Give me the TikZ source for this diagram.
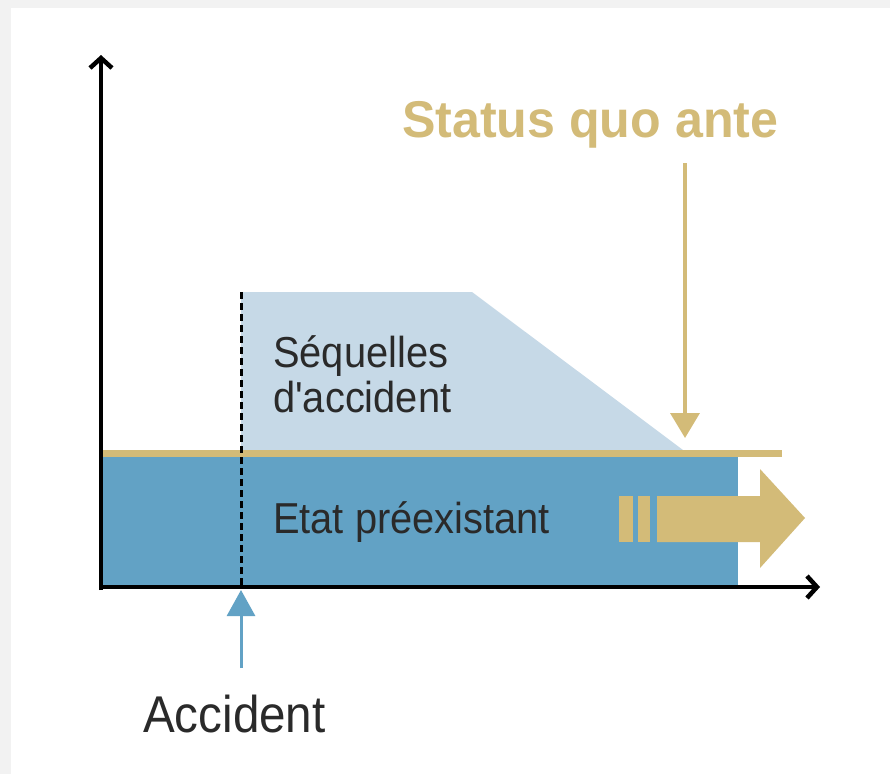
\documentclass[tikz,border=0pt]{standalone}
\usepackage{fontspec}
\usetikzlibrary{arrows.meta}
\newfontfamily\regsans[FakeStretch=0.92]{Liberation Sans}
\newfontfamily\titlesans[FakeStretch=0.97]{Liberation Sans}
\definecolor{bgray}{HTML}{F2F2F2}
\definecolor{deepblue}{HTML}{62A2C5}
\definecolor{paleblue}{HTML}{C6D9E7}
\definecolor{gold}{HTML}{D3BB78}
\definecolor{ink}{HTML}{2A2A2A}
\tikzset{
  axisline/.style={line width=4.5pt, black, -{Straight Barb[length=10pt,width=22pt]}},
  bodytext/.style={inner sep=0pt, anchor=base west, text=ink, font=\regsans\fontsize{43.3}{45}\selectfont, align=left},
  bigtext/.style={inner sep=0pt, anchor=base west, text=ink, font=\regsans\fontsize{51.7}{55}\selectfont},
  titletext/.style={inner sep=0pt, anchor=base west, text=gold, font=\titlesans\bfseries\fontsize{51.7}{55}\selectfont},
  goldarrow/.style={draw=gold, line width=3.5pt, -{Triangle[length=25pt,width=29pt]}},
  bluearrow/.style={draw=deepblue, line width=3pt, -{Triangle[length=26pt,width=28pt]}},
}
\begin{document}
\begin{tikzpicture}[x=1pt,y=-1pt]
\useasboundingbox (0,0) rectangle (890,774);
\fill[bgray] (0,0) rectangle (890,774);
\fill[white] (11,8) rectangle (890,774);
% regions
\fill[paleblue] (241,292) -- (472,292) -- (683,450) -- (241,450) -- cycle;
\fill[deepblue] (103,457) rectangle (738,586);
\fill[gold] (103,450) rectangle (782,457);
% big gold arrow
\fill[gold] (619,496) rectangle (633,542);
\fill[gold] (638,496) rectangle (650,542);
\fill[gold] (657,496) -- (760,496) -- (760,469) -- (805,518) -- (760,568) -- (760,542) -- (657,542) -- cycle;
% dashed accident line
\draw[black, line width=3pt, dash pattern=on 7pt off 4pt] (241,292) -- (241,587);
% axes
\coordinate (ytop) at (101,55);
\coordinate (xend) at (820,587);
\draw[axisline] (101,590) -- (ytop);
\draw[axisline] (99,587) -- (xend);
% texts
\node[bodytext] (seq) at (273,412) {Séquelles\\d'accident};
\node[bodytext] (etat) at (273,533) {Etat préexistant};
\node[bigtext] (acc) at (143,732) {Accident};
\node[titletext] (sqa) at (402,137) {Status quo ante};
% pointer arrows
\coordinate (sqatip) at (685,438);
\coordinate (acctip) at (241,590);
\draw[goldarrow] (685,163) -- (sqatip);
\draw[bluearrow] (241,668) -- (acctip);
\end{tikzpicture}
\end{document}
